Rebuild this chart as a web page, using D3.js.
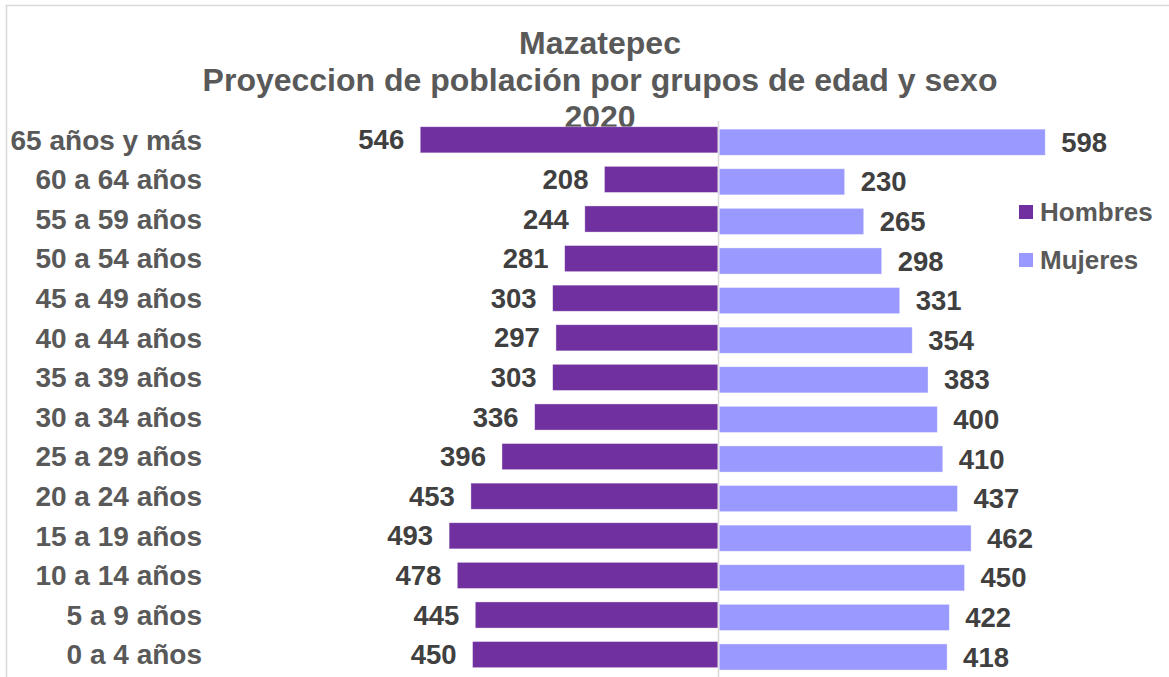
<!DOCTYPE html>
<html lang="es">
<head>
    <meta charset="UTF-8">
    <title>Mazatepec - Proyeccion de población</title>
    <script src="https://cdnjs.cloudflare.com/ajax/libs/d3/7.9.0/d3.min.js"></script>
    <style>
        body { margin: 0; background: white; }
        svg { display: block; font-family: "Liberation Sans", Arial, sans-serif; font-weight: bold; }
    </style>
</head>
<body>
    <svg id="chart" width="1169" height="677"></svg>
    <script>
        // chart data, top row first
        const groups = ["65 años y más", "60 a 64 años", "55 a 59 años", "50 a 54 años", "45 a 49 años",
            "40 a 44 años", "35 a 39 años", "30 a 34 años", "25 a 29 años", "20 a 24 años",
            "15 a 19 años", "10 a 14 años", "5 a 9 años", "0 a 4 años"];
        const hombres = [546, 208, 244, 281, 303, 297, 303, 336, 396, 453, 493, 478, 445, 450];
        const mujeres = [598, 230, 265, 298, 331, 354, 383, 400, 410, 437, 462, 450, 422, 418];
        const titleLines = ["Mazatepec", "Proyeccion de población por grupos de edad y sexo", "2020"];
        const seriesNames = ["Hombres", "Mujeres"];
        const colors = ["#7030a0", "#9999ff"];

        const svg = d3.select('#chart');

        // outer frame
        svg.append('rect')
            .attr('x', 6.5).attr('y', 5.5).attr('width', 1200).attr('height', 700)
            .attr('fill', 'none').attr('stroke', '#d9d9d9').attr('stroke-width', 1.5);

        const y = d3.scaleBand().domain(groups).range([120, 674.4]).paddingInner(0.34).paddingOuter(0.17);
        const xL = d3.scaleLinear().domain([0, 600]).range([717.8, 717.8 - 327]);
        const xR = d3.scaleLinear().domain([0, 600]).range([719.3, 719.3 + 327]);
        const offR = 2.4; // mujeres bars sit a bit lower

        // title
        svg.append('g').selectAll('text').data(titleLines).join('text')
            .attr('x', 600).attr('y', (d, i) => 54 + i * 37)
            .attr('text-anchor', 'middle').attr('fill', '#595959')
            .style('font-size', '32px')
            .text(d => d);

        // center axis
        svg.append('line')
            .attr('x1', 718.5).attr('x2', 718.5).attr('y1', 121).attr('y2', 677)
            .attr('stroke', '#d9d9d9').attr('stroke-width', 1.5);

        // category labels
        svg.append('g').selectAll('text').data(groups).join('text')
            .attr('x', 202).attr('y', d => y(d) + y.bandwidth() / 2)
            .attr('dy', '0.35em').attr('text-anchor', 'end').attr('fill', '#595959')
            .style('font-size', '28px')
            .text(d => d);

        // hombres bars
        svg.append('g').selectAll('rect').data(hombres).join('rect')
            .attr('x', d => xL(d)).attr('y', (d, i) => y(groups[i]))
            .attr('width', d => xL(0) - xL(d)).attr('height', y.bandwidth())
            .attr('fill', colors[0]).attr('stroke', '#ffffff').attr('stroke-opacity', 0.5).attr('stroke-width', 0.75);

        // mujeres bars
        svg.append('g').selectAll('rect').data(mujeres).join('rect')
            .attr('x', xR(0)).attr('y', (d, i) => y(groups[i]) + offR)
            .attr('width', d => xR(d) - xR(0)).attr('height', y.bandwidth())
            .attr('fill', colors[1]).attr('stroke', '#ffffff').attr('stroke-opacity', 0.5).attr('stroke-width', 0.75);

        // value labels
        svg.append('g').selectAll('text').data(hombres).join('text')
            .attr('x', d => xL(d) - 16).attr('y', (d, i) => y(groups[i]) + y.bandwidth() / 2)
            .attr('dy', '0.35em').attr('text-anchor', 'end').attr('fill', '#404040')
            .style('font-size', '27.5px')
            .text(d => d);

        svg.append('g').selectAll('text').data(mujeres).join('text')
            .attr('x', d => xR(d) + 16).attr('y', (d, i) => y(groups[i]) + offR + y.bandwidth() / 2)
            .attr('dy', '0.35em').attr('text-anchor', 'start').attr('fill', '#404040')
            .style('font-size', '27.5px')
            .text(d => d);

        // legend
        const legend = svg.append('g').selectAll('g').data(seriesNames).join('g')
            .attr('transform', (d, i) => `translate(1019, ${205 + i * 48})`);
        legend.append('rect').attr('width', 14).attr('height', 14).attr('fill', (d, i) => colors[i]);
        legend.append('text')
            .attr('x', 21).attr('y', 7).attr('dy', '0.35em').attr('fill', '#595959')
            .style('font-size', '26px')
            .text(d => d);
    </script>
</body>
</html>
